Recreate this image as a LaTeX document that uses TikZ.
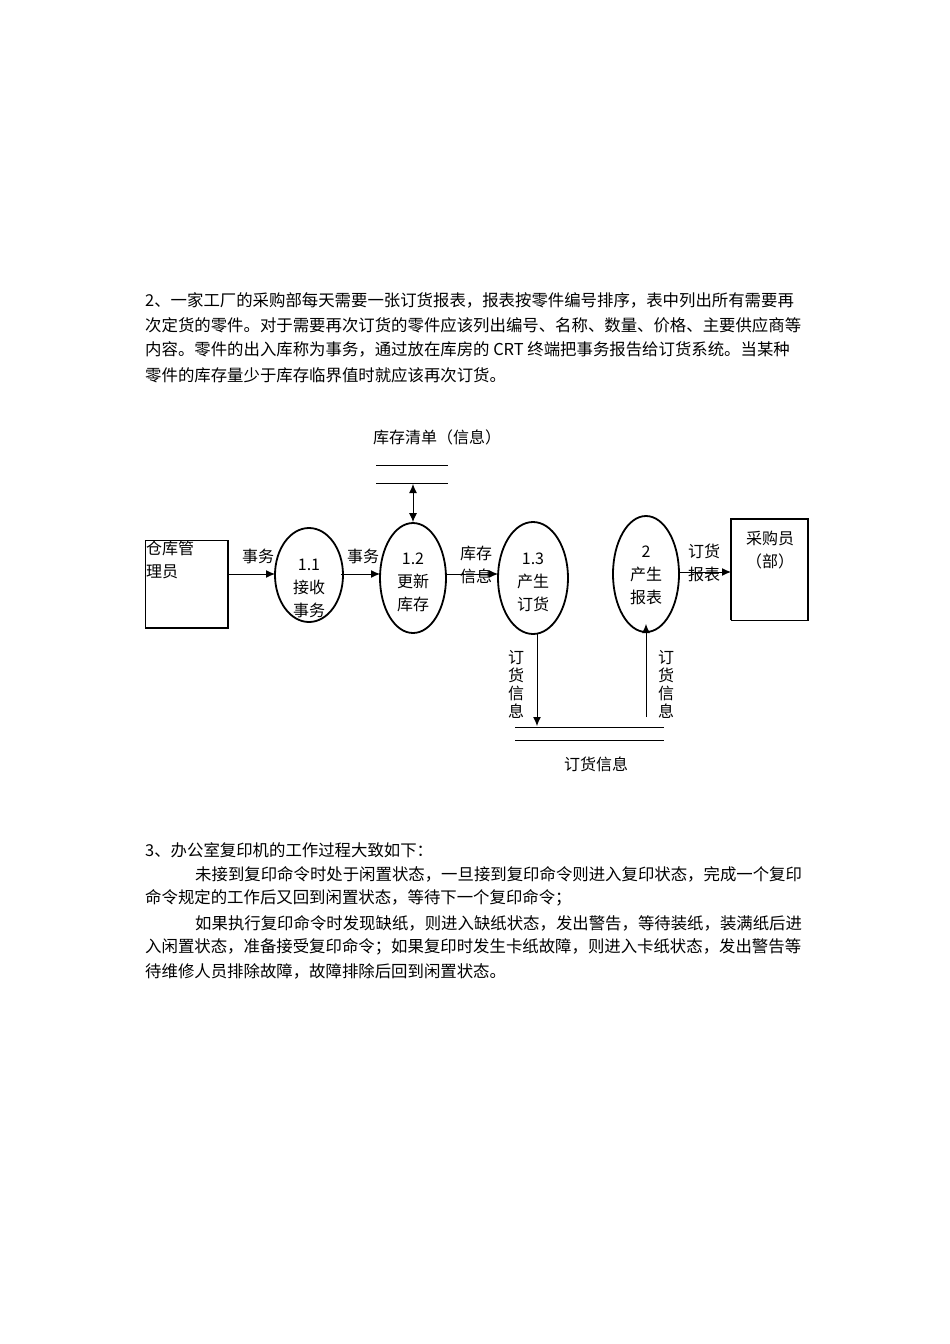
\documentclass[tikz,border=0pt]{standalone}
\usepackage{fontspec}
\usetikzlibrary{shapes.geometric,arrows.meta}
\setmainfont{Liberation Serif}
\newfontfamily\cjk{Noto Sans CJK SC}
\begin{document}
\begin{tikzpicture}[x=1pt,y=-1pt,
  txt/.style={anchor=west,inner sep=0pt,font=\cjk\fontsize{16.4}{18}\selectfont},
  lab/.style={inner sep=0pt,font=\cjk\fontsize{16}{23}\selectfont,align=center},
  vlab/.style={inner sep=0pt,font=\cjk\fontsize{16}{18}\selectfont,align=center},
  proc/.style={draw,line width=1.8pt,ellipse,inner sep=0pt},
  flow/.style={-{Latex[length=9pt,width=8pt]},line width=1pt},
  st/.style={line width=1pt}]
\useasboundingbox (0,0) rectangle (950,1344);
% paragraph 2
\node[txt] (p1) at (145,300) {2、一家工厂的采购部每天需要一张订货报表，报表按零件编号排序，表中列出所有需要再};
\node[txt] (p2) at (145,325) {次定货的零件。对于需要再次订货的零件应该列出编号、名称、数量、价格、主要供应商等};
\node[txt] (p3) at (145,349) {内容。零件的出入库称为事务，通过放在库房的 CRT 终端把事务报告给订货系统。当某种};
\node[txt] (p4) at (145,375) {零件的库存量少于库存临界值时就应该再次订货。};
% paragraph 3
\node[txt] (q1) at (145,850) {3、办公室复印机的工作过程大致如下：};
\node[txt] (q2) at (195,874) {未接到复印命令时处于闲置状态，一旦接到复印命令则进入复印状态，完成一个复印};
\node[txt] (q3) at (145,898) {命令规定的工作后又回到闲置状态，等待下一个复印命令；};
\node[txt] (q4) at (195,923) {如果执行复印命令时发现缺纸，则进入缺纸状态，发出警告，等待装纸，装满纸后进};
\node[txt] (q5) at (145,947) {入闲置状态，准备接受复印命令；如果复印时发生卡纸故障，则进入卡纸状态，发出警告等};
\node[txt] (q6) at (145,971) {待维修人员排除故障，故障排除后回到闲置状态。};
% external entities
\draw[line width=0.8pt] (145,540) rectangle (228,628);
\draw[line width=2pt] (228,540) -- (228,628) -- (145,628);
\node[lab,anchor=north west,align=left] (w) at (146,541) {仓库管\\理员};
\coordinate (wE) at (228,574);
\draw[line width=0.8pt] (731,519) rectangle (808,620);
\draw[line width=2pt] (731,620) -- (731,519) -- (808,519) -- (808,620);
\node[lab] (c) at (770,550) {采购员\\（部）};
\coordinate (cW) at (731,572);
% processes
\node[proc,minimum width=68pt,minimum height=94pt] (e1) at (309,575) {};
\node[lab] at (309,588) {1.1\\接收\\事务};
\node[proc,minimum width=66pt,minimum height=110pt] (e2) at (413,578) {};
\node[lab] at (413,582) {1.2\\更新\\库存};
\node[proc,minimum width=70pt,minimum height=112pt] (e3) at (533,578) {};
\node[lab] at (533,582) {1.3\\产生\\订货};
\node[proc,minimum width=66pt,minimum height=116pt] (e4) at (646,574) {};
\node[lab] at (646,575) {2\\产生\\报表};
% stores
\draw[st] (376,465) -- (448,465);
\draw[st] (376,483) -- (448,483);
\node[lab] (s1) at (437,437) {库存清单（信息）};
\coordinate (s1b) at (413,484);
\draw[st] (515,727) -- (664,727);
\draw[st] (515,740) -- (664,740);
\node[lab] (s2) at (596,764) {订货信息};
\coordinate (s2a) at (537,726);
\coordinate (s2b) at (646,717);
% flows
\draw[flow] (wE) -- (275,574);
\node[lab] at (258,556) {事务};
\draw[flow] (341,574) -- (380,574);
\node[lab] at (363,556) {事务};
\draw[flow] (446,574) -- (498,574);
\node[lab] at (476,565) {库存\\信息};
\draw[flow] (679,572) -- (cW);
\node[lab] at (704,563) {订货\\报表};
\draw[{Latex[length=9pt,width=8pt]}-{Latex[length=9pt,width=8pt]},line width=1pt] (s1b) -- (e2.north);
\draw[flow] (537,633) -- (s2a);
\node[vlab] at (516,684) {订\\货\\信\\息};
\draw[flow] (s2b) -- (646,624);
\node[vlab] at (666,684) {订\\货\\信\\息};
\end{tikzpicture}
\end{document}
